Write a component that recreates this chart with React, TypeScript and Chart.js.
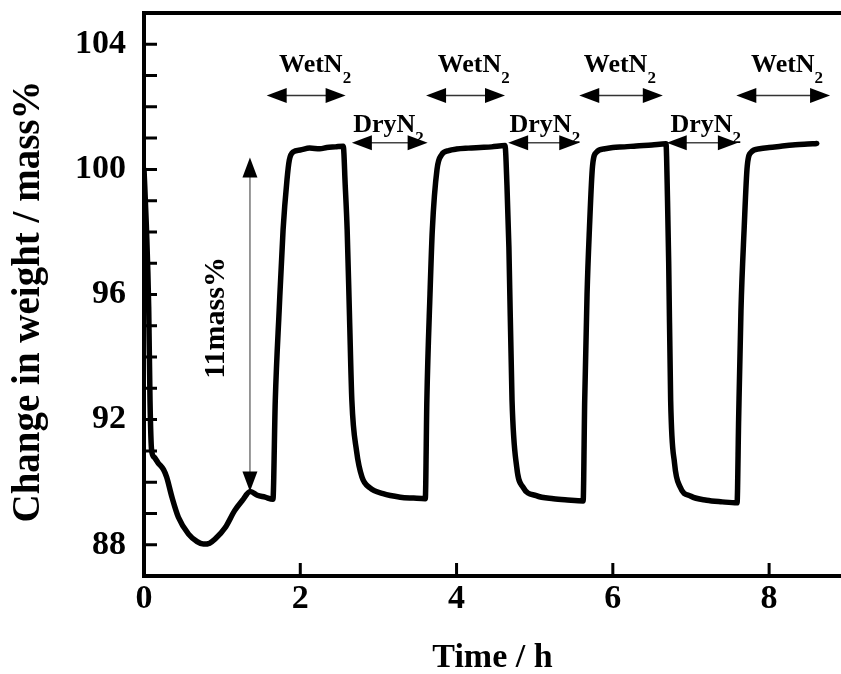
import React, { useEffect, useRef } from "react";
import { Chart, registerables } from "chart.js";
Chart.register(...registerables);

// ---- data ----
const timeH = [
  0, 0.03, 0.06, 0.077, 0.098, 0.13, 0.18, 0.25, 0.29, 0.36, 0.44, 0.57, 0.68, 0.76, 0.84, 0.91, 1.04, 1.16, 1.26, 1.36, 1.45, 1.55, 1.65,
  1.68, 1.73, 1.78, 1.83, 1.86, 1.91, 2.0, 2.12, 2.25, 2.34, 2.45, 2.55,
  2.575, 2.6, 2.63, 2.66, 2.72, 2.79, 2.89, 3.06, 3.28, 3.45, 3.6,
  3.62, 3.66, 3.69, 3.75, 3.81, 3.9, 4.0, 4.15, 4.3, 4.45, 4.62,
  4.645, 4.67, 4.71, 4.77, 4.85, 5.02, 5.24, 5.42, 5.62,
  5.64, 5.67, 5.7, 5.74, 5.79, 5.9, 6.0, 6.15, 6.3, 6.5, 6.68,
  6.7, 6.715, 6.74, 6.79, 6.86, 7.0, 7.2, 7.4, 7.59,
  7.61, 7.64, 7.68, 7.72, 7.77, 7.88, 8.0, 8.15, 8.3, 8.45, 8.61,
];
const weightPct = [
  100.0, 98.2, 95.6, 92.6, 91.0, 90.8, 90.62, 90.4, 90.16, 89.5, 88.88, 88.34, 88.1, 88.02, 88.05, 88.18, 88.55, 89.09, 89.42, 89.7, 89.58, 89.52, 89.45,
  92.6, 95.5, 98.07, 99.67, 100.3, 100.56, 100.62, 100.68, 100.66, 100.7, 100.72, 100.74,
  99.5, 98.07, 95.3, 92.62, 91.0, 90.16, 89.82, 89.63, 89.52, 89.49, 89.47,
  92.62, 96.0, 98.07, 100.0, 100.47, 100.6, 100.65, 100.68, 100.7, 100.72, 100.76,
  99.5, 97.5, 92.62, 90.48, 89.84, 89.57, 89.47, 89.43, 89.4,
  92.62, 96.0, 98.07, 100.1, 100.55, 100.66, 100.7, 100.72, 100.75, 100.78, 100.82,
  99.0, 97.0, 92.62, 90.6, 89.85, 89.55, 89.42, 89.37, 89.34,
  92.0, 95.5, 98.07, 100.1, 100.55, 100.66, 100.7, 100.74, 100.78, 100.8, 100.83,
];
const xTickValues = [0, 2, 4, 6, 8];
const yTickValues = [88, 92, 96, 100, 104];
const yMinorTickValues = [87, 88, 89, 90, 91, 92, 93, 94, 95, 96, 97, 98, 99, 100, 101, 102, 103, 104, 105];
const xTitle = "Time / h";
const yTitle = "Change in weight / mass%";

// annotations (data coordinates)
const wetArrowStart = [1.57, 3.61, 5.57, 7.58];
const wetArrowEnd = [2.58, 4.62, 6.64, 8.78];
const wetLabelCenter = [2.19, 4.22, 6.09, 8.23];
const wetArrowY = 102.36;
const wetLabelBaseline = 103.1;
const dryArrowStart = [2.66, 4.66, 6.69];
const dryArrowEnd = [3.63, 5.57, 7.6];
const dryLabelCenter = [3.13, 5.13, 7.19];
const dryArrowY = 100.85;
const dryLabelBaseline = 101.21;
const spanArrowX = 1.356;
const spanArrowFrom = 89.7;
const spanArrowTo = 100.38;
const spanLabel = "11mass%";
const spanLabelX = 0.92;
const spanLabelY = 95.25;

const SERIF = "'Liberation Serif', 'Times New Roman', serif";

function drawArrowHead(ctx: CanvasRenderingContext2D, tx: number, ty: number, dx: number, dy: number) {
  const L = 20, H = 7.5;
  const bx = tx - dx * L, by = ty - dy * L;
  ctx.beginPath();
  ctx.moveTo(tx, ty);
  ctx.lineTo(bx - dy * H, by + dx * H);
  ctx.lineTo(bx + dy * H, by - dx * H);
  ctx.closePath();
  ctx.fill();
}

function drawDoubleArrow(ctx: CanvasRenderingContext2D, x1: number, y1: number, x2: number, y2: number, lineColor: string) {
  const len = Math.hypot(x2 - x1, y2 - y1);
  const dx = (x2 - x1) / len, dy = (y2 - y1) / len;
  ctx.strokeStyle = lineColor;
  ctx.lineWidth = 1.5;
  ctx.beginPath();
  ctx.moveTo(x1 + dx * 10, y1 + dy * 10);
  ctx.lineTo(x2 - dx * 10, y2 - dy * 10);
  ctx.stroke();
  ctx.fillStyle = "#000";
  drawArrowHead(ctx, x2, y2, dx, dy);
  drawArrowHead(ctx, x1, y1, -dx, -dy);
}

function drawSubLabel(ctx: CanvasRenderingContext2D, main: string, sub: string, cx: number, baseline: number) {
  const mainFont = `bold 26px ${SERIF}`;
  const subFont = `bold 17px ${SERIF}`;
  ctx.font = mainFont;
  const wm = ctx.measureText(main).width;
  ctx.font = subFont;
  const ws = ctx.measureText(sub).width;
  const x0 = cx - (wm + ws) / 2;
  ctx.fillStyle = "#000";
  ctx.textAlign = "left";
  ctx.textBaseline = "alphabetic";
  ctx.font = mainFont;
  ctx.fillText(main, x0, baseline);
  ctx.font = subFont;
  ctx.fillText(sub, x0 + wm, baseline + 11);
}

const framePlugin = {
  id: "frameAndNotes",
  afterDatasetsDraw(chart: any) {
    const { ctx, chartArea: ca, scales } = chart;
    const x = scales.x, y = scales.y;
    ctx.save();
    ctx.strokeStyle = "#000";
    ctx.lineCap = "butt";
    // frame
    ctx.lineWidth = 4;
    ctx.beginPath();
    ctx.moveTo(ca.right + 2, ca.top);
    ctx.lineTo(ca.left, ca.top);
    ctx.lineTo(ca.left, ca.bottom);
    ctx.lineTo(ca.right + 2, ca.bottom);
    ctx.stroke();
    // inward ticks
    ctx.lineWidth = 3;
    ctx.beginPath();
    yMinorTickValues.forEach((v) => {
      const py = y.getPixelForValue(v);
      if (py < ca.top + 2 || py > ca.bottom - 2) return;
      ctx.moveTo(ca.left, py);
      ctx.lineTo(ca.left + 13, py);
    });
    xTickValues.forEach((v) => {
      const px = x.getPixelForValue(v);
      if (px < ca.left + 2) return;
      ctx.moveTo(px, ca.bottom);
      ctx.lineTo(px, ca.bottom - 13);
    });
    ctx.stroke();

    // y axis title
    ctx.save();
    ctx.translate(y.left + 29, (ca.top + ca.bottom) / 2 + 7);
    ctx.rotate(-Math.PI / 2);
    ctx.font = `bold 39px ${SERIF}`;
    ctx.fillStyle = "#000";
    ctx.textAlign = "center";
    ctx.textBaseline = "middle";
    ctx.fillText(yTitle, 0, 0);
    ctx.restore();

    // Wet / Dry arrows and labels
    wetArrowStart.forEach((s, i) => {
      const py = y.getPixelForValue(wetArrowY);
      drawDoubleArrow(ctx, x.getPixelForValue(s), py, x.getPixelForValue(wetArrowEnd[i]), py, "#333");
      drawSubLabel(ctx, "WetN", "2", x.getPixelForValue(wetLabelCenter[i]), y.getPixelForValue(wetLabelBaseline));
    });
    dryArrowStart.forEach((s, i) => {
      const py = y.getPixelForValue(dryArrowY);
      drawDoubleArrow(ctx, x.getPixelForValue(s), py, x.getPixelForValue(dryArrowEnd[i]), py, "#444");
      drawSubLabel(ctx, "DryN", "2", x.getPixelForValue(dryLabelCenter[i]), y.getPixelForValue(dryLabelBaseline));
    });

    // 11 mass% span arrow
    const sx = x.getPixelForValue(spanArrowX);
    drawDoubleArrow(ctx, sx, y.getPixelForValue(spanArrowFrom), sx, y.getPixelForValue(spanArrowTo), "#777");
    ctx.save();
    ctx.translate(x.getPixelForValue(spanLabelX), y.getPixelForValue(spanLabelY));
    ctx.rotate(-Math.PI / 2);
    ctx.font = `bold 30px ${SERIF}`;
    ctx.fillStyle = "#000";
    ctx.textAlign = "center";
    ctx.textBaseline = "middle";
    ctx.fillText(spanLabel, 0, 0);
    ctx.restore();

    ctx.restore();
  },
};

export default function App() {
  const canvasRef = useRef<HTMLCanvasElement | null>(null);

  useEffect(() => {
    document.body.style.margin = "0";
    const canvas = canvasRef.current;
    if (!canvas) return;
    const points = timeH.map((t, i) => ({ x: t, y: weightPct[i] }));
    const tickFont = { family: SERIF, size: 34, weight: "bold" as const };
    const chart = new Chart(canvas, {
      type: "line",
      data: {
        datasets: [
          {
            data: points,
            borderColor: "#000",
            borderWidth: 5.5,
            pointRadius: 0,
            fill: false,
            cubicInterpolationMode: "monotone",
            borderJoinStyle: "round",
            borderCapStyle: "round",
          },
        ],
      },
      options: {
        animation: false,
        responsive: false,
        events: [],
        layout: { padding: { top: 13, left: 0, right: 0, bottom: 0 } },
        plugins: { legend: { display: false }, tooltip: { enabled: false } },
        scales: {
          x: {
            type: "linear",
            min: 0,
            max: 8.92,
            grid: { display: false, drawTicks: false },
            border: { display: false },
            afterBuildTicks: (s: any) => {
              s.ticks = xTickValues.map((v) => ({ value: v }));
            },
            afterFit: (s: any) => {
              s.height = 98;
              s.paddingLeft = 0;
              s.paddingRight = 0;
            },
            ticks: { font: tickFont, color: "#000", padding: 3, maxRotation: 0, autoSkip: false },
            title: {
              display: true,
              text: xTitle,
              color: "#000",
              font: { family: SERIF, size: 34, weight: "bold" },
              padding: { top: 0, bottom: -5 },
            },
          },
          y: {
            type: "linear",
            min: 87,
            max: 105,
            grid: { display: false, drawTicks: false },
            border: { display: false },
            afterBuildTicks: (s: any) => {
              s.ticks = yTickValues.map((v) => ({ value: v }));
            },
            afterFit: (s: any) => {
              s.width = 144;
              s.paddingTop = 0;
              s.paddingBottom = 0;
            },
            ticks: { font: tickFont, color: "#000", padding: 18, autoSkip: false },
            title: { display: false },
          },
        },
      },
      plugins: [framePlugin],
    });
    return () => chart.destroy();
  }, []);

  return <canvas ref={canvasRef} width={841} height={674} style={{ display: "block" }} />;
}
